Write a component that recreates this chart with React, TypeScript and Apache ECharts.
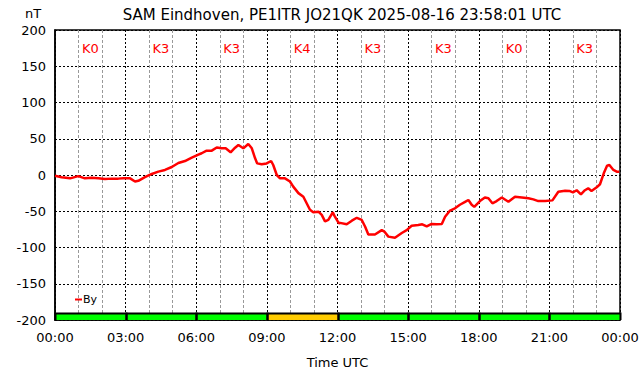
import React, { useEffect, useRef } from "react";
import * as echarts from "echarts";

const hours = [
  0.0, 0.28, 0.64, 0.99, 1.27, 1.56, 1.84, 2.12, 2.41, 2.69, 2.9, 3.19, 3.4, 3.54, 3.82, 4.11, 4.39, 4.67, 4.96, 5.24, 5.52, 5.81, 6.09,
  6.23, 6.44, 6.66, 6.87, 7.08, 7.25, 7.46, 7.65, 7.79, 8.0, 8.21, 8.36, 8.5, 8.59, 8.78, 8.99, 9.18, 9.27, 9.42, 9.56, 9.77, 9.98,
  10.12, 10.34, 10.55, 10.69, 10.83, 10.97, 11.19, 11.33, 11.47, 11.61, 11.8, 11.89, 12.06,
  12.11, 12.39, 12.61, 12.82, 13.03, 13.17, 13.31, 13.59, 13.88, 13.99, 14.16, 14.44, 14.73, 14.94, 15.15, 15.43, 15.6, 15.79,
  16.0, 16.21, 16.43, 16.57, 16.78, 16.99, 17.2, 17.42, 17.56, 17.7, 17.81,
  18.05, 18.26, 18.41, 18.58, 18.76, 18.98, 19.26, 19.54, 19.83, 20.11, 20.32, 20.53, 20.82, 21.13, 21.38, 21.67, 21.85, 22.0,
  22.16, 22.34, 22.51, 22.65, 22.79, 23.01, 23.15, 23.31, 23.45, 23.55, 23.72, 23.86, 23.97,
];
const byValues = [
  -1, -3, -4.6, -1.5, -4.6, -3.7, -4.6, -5.5, -5, -5, -4.6, -4.6, -9, -8, -3, 1.4, 4.6, 7, 11, 16.5, 19.3, 24, 28,
  30, 33.6, 33.6, 38, 36.8, 36.8, 31.3, 37.7, 41.4, 36.8, 42.8, 36.8, 23, 16, 14.7, 16, 19.3, 13.8, 0, -4.6, -4.6, -9,
  -16, -25, -30, -39, -48, -51.5, -50.6, -55, -64, -62, -51.5, -57.5, -66.7,
  -66, -68, -63, -59, -62, -71, -82, -82, -76, -78, -85, -86.5, -80, -76, -70, -69, -68, -71,
  -67.5, -68, -67.5, -57.5, -49, -46, -41, -37, -34.5, -41, -44,
  -36, -31, -32, -39, -36, -31, -37, -30, -31, -32, -33.6, -36, -36, -35, -23, -21.6, -22, -24,
  -21, -26.6, -21, -18.4, -22, -17, -12.8, 2.3, 12.8, 13.8, 7, 4.6, 4.6,
];
const kIndex = [0, 3, 3, 4, 3, 3, 0, 3];
const kBlockHours = 3;
const kBarRange = [-200, -190];
const kLabelY = 174;
const titleText = "SAM Eindhoven, PE1ITR JO21QK 2025-08-16 23:58:01 UTC";

const FONT = "DejaVu Sans";

export default function App() {
  const ref = useRef<HTMLDivElement>(null);
  useEffect(() => {
    if (!ref.current) return;
    const chart = echarts.init(ref.current, null, { renderer: "svg" });
    const lineData = hours.map((h, i) => [h, byValues[i]]);
    const kData = kIndex.map((k, i) => [i * kBlockHours, (i + 1) * kBlockHours, k]);
    chart.setOption({
      animation: false,
      backgroundColor: "#fff",
      textStyle: { fontFamily: FONT },
      title: {
        text: titleText,
        left: 337,
        textAlign: "center",
        top: 2,
        textStyle: { fontFamily: FONT, fontSize: 15, fontWeight: "normal", color: "#000" },
      },
      graphic: [
        {
          type: "text",
          left: 25,
          top: 7,
          style: { text: "nT", font: `13px '${FONT}'`, fill: "#000" },
        },
      ],
      legend: {
        left: 70,
        top: 289,
        itemWidth: 7,
        itemHeight: 2,
        itemGap: 2,
        textStyle: { fontFamily: FONT, fontSize: 11, color: "#000", padding: [0, 0, 0, -4] },
        data: [{ name: "By", icon: "rect", itemStyle: { color: "#ff0000" } }],
      },
      grid: {
        left: 55,
        right: 22,
        top: 30,
        bottom: 56,
        show: true,
        borderColor: "#000",
        borderWidth: 1.5,
        backgroundColor: "transparent",
      },
      xAxis: {
        type: "value",
        min: 0,
        max: 24,
        interval: 3,
        name: "Time UTC",
        nameLocation: "middle",
        nameGap: 36,
        nameTextStyle: { fontFamily: FONT, fontSize: 13, color: "#000" },
        axisLine: { show: true, onZero: false, lineStyle: { color: "#000", width: 1.5 } },
        axisTick: { show: false },
        axisLabel: {
          fontFamily: FONT,
          fontSize: 13,
          color: "#000",
          margin: 11,
          formatter: (v: number) => String(v % 24).padStart(2, "0") + ":00",
        },
        splitLine: { show: true, lineStyle: { color: "#000", type: [2, 2], width: 1 } },
        minorTick: { show: false, splitNumber: 3 },
        minorSplitLine: { show: true, lineStyle: { color: "#999", type: [3, 2], width: 1 } },
      },
      yAxis: {
        type: "value",
        min: -200,
        max: 200,
        interval: 50,
        axisLine: { show: true, onZero: false, lineStyle: { color: "#000", width: 1.5 } },
        axisTick: { show: false },
        axisLabel: { fontFamily: FONT, fontSize: 13, color: "#000", margin: 9 },
        splitLine: { show: true, lineStyle: { color: "#000", type: [2, 2], width: 1 } },
      },
      series: [
        {
          name: "K",
          type: "custom",
          data: kData,
          silent: true,
          clip: false,
          z: 3,
          renderItem: (params: any, api: any) => {
            const x0 = api.value(0);
            const x1 = api.value(1);
            const k = api.value(2);
            const p0 = api.coord([x0, kBarRange[1]]);
            const p1 = api.coord([x1, kBarRange[0]]);
            const pl = api.coord([(x0 + x1) / 2, kLabelY]);
            const l = Math.round(p0[0]) + 0.5;
            const r = Math.round(p1[0]) + 0.5;
            const t = Math.round(p0[1]) + 0.5;
            const b = Math.round(p1[1]);
            return {
              type: "group",
              children: [
                {
                  type: "rect",
                  shape: { x: l, y: t, width: r - l, height: b - t },
                  style: { fill: k >= 4 ? "#ffcc00" : "#00ff00" },
                },
                {
                  type: "polyline",
                  shape: { points: [[l, b], [l, t], [r, t], [r, b]] },
                  style: { stroke: "#000", lineWidth: 2, fill: null },
                  z2: 10,
                },
                {
                  type: "text",
                  x: pl[0],
                  y: pl[1],
                  style: {
                    text: "K" + k,
                    fill: "#ff0000",
                    font: `13px '${FONT}'`,
                    align: "center",
                    verticalAlign: "middle",
                  },
                },
              ],
            };
          },
        },
        {
          name: "By",
          type: "line",
          data: lineData,
          showSymbol: false,
          symbol: "none",
          color: "#ff0000",
          lineStyle: { color: "#ff0000", width: 2.5 },
          z: 5,
        },
      ],
    });
    return () => chart.dispose();
  }, []);
  return <div ref={ref} style={{ width: 642, height: 376, position: "absolute", left: 0, top: 0 }} />;
}
